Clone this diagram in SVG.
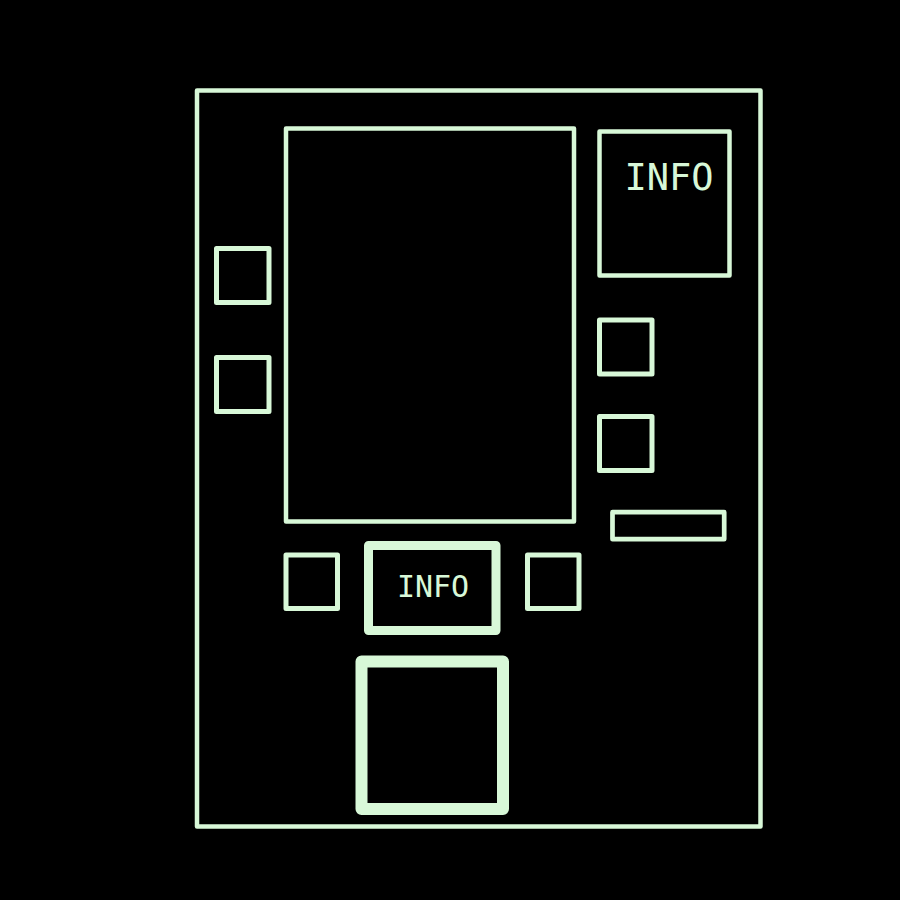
<svg xmlns="http://www.w3.org/2000/svg" width="900" height="900" viewBox="0 0 900 900">
<style>
.b{fill:none;stroke:#d8f8d8;stroke-linejoin:round}
.t{fill:#d8f8d8;font-family:"DejaVu Sans Mono","Liberation Mono",monospace;text-anchor:middle}
</style>
<rect width="900" height="900" fill="#000"/>
<g id="frame"><rect class="b" x="197" y="90.5" width="563.5" height="736" stroke-width="4.5"/></g>
<g id="screen"><rect class="b" x="286" y="128.5" width="288" height="393" stroke-width="4.5"/></g>
<g id="info-top"><rect class="b" x="599.5" y="131.5" width="130" height="144" stroke-width="4.5"/><text class="t" x="669" y="190" font-size="37">INFO</text></g>
<g id="left-btn-1"><rect class="b" x="216.5" y="248.5" width="52.5" height="54" stroke-width="5"/></g>
<g id="left-btn-2"><rect class="b" x="216.5" y="357.5" width="52.5" height="54" stroke-width="5"/></g>
<g id="right-btn-1"><rect class="b" x="599.5" y="320" width="52.5" height="54" stroke-width="5"/></g>
<g id="right-btn-2"><rect class="b" x="599.5" y="416.5" width="52.5" height="54" stroke-width="5"/></g>
<g id="slot"><rect class="b" x="612.5" y="512.2" width="111.7" height="27" stroke-width="4.7"/></g>
<g id="bottom-btn-left"><rect class="b" x="286" y="555" width="51.5" height="53.5" stroke-width="5"/></g>
<g id="bottom-btn-right"><rect class="b" x="527.5" y="555" width="51.5" height="53.5" stroke-width="5"/></g>
<g id="info-bottom"><rect class="b" x="368.5" y="545.5" width="127.5" height="85" stroke-width="9"/><text class="t" x="433" y="597" font-size="30">INFO</text></g>
<g id="tray"><rect class="b" x="361.5" y="661.5" width="141.5" height="147.5" stroke-width="12"/></g>
<g id="connectors"></g>
</svg>
